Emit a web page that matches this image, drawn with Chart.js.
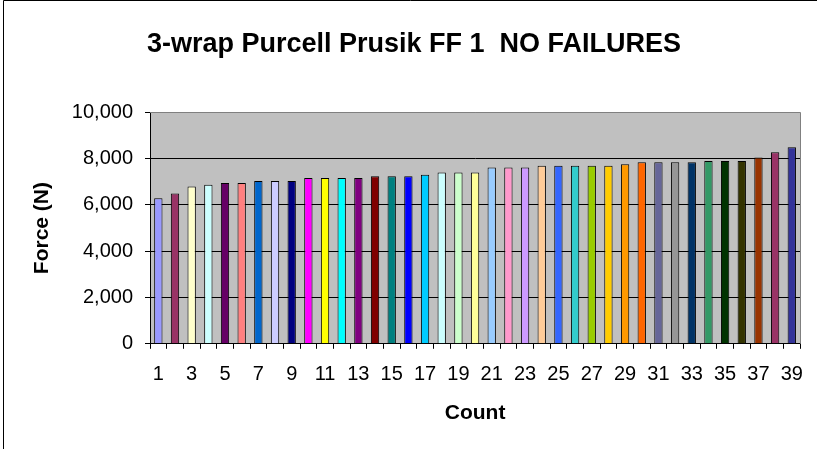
<!DOCTYPE html>
<html>
<head>
<meta charset="utf-8">
<script src="https://cdn.jsdelivr.net/npm/chart.js@4/dist/chart.umd.min.js"></script>
<style>
html,body{margin:0;padding:0;background:#fff;}
#wrap{position:relative;width:817px;height:449px;}
</style>
</head>
<body>
<div id="wrap"><canvas id="c" width="817" height="449"></canvas></div>
<script>
const categories = ['1','2','3','4','5','6','7','8','9','10','11','12','13','14','15','16','17','18','19','20','21','22','23','24','25','26','27','28','29','30','31','32','33','34','35','36','37','38','39'];
const forceValues = [6290,6500,6800,6870,6950,6950,7040,7040,7040,7170,7170,7170,7170,7240,7240,7240,7310,7400,7400,7400,7620,7620,7620,7690,7690,7690,7690,7690,7760,7850,7850,7850,7850,7900,7900,7900,8050,8280,8490];
const barColors = ['#9999FF','#993366','#FFFFCC','#CCFFFF','#660066','#FF8080','#0066CC','#CCCCFF','#000080','#FF00FF','#FFFF00','#00FFFF','#800080','#800000','#008080','#0000FF','#00CCFF','#CCFFFF','#CCFFCC','#FFFF99','#99CCFF','#FF99CC','#CC99FF','#FFCC99','#3366FF','#33CCCC','#99CC00','#FFCC00','#FF9900','#FF6600','#666699','#969696','#003366','#339966','#003300','#333300','#993300','#993366','#333399'];
const yTickValues = [0,2000,4000,6000,8000,10000];
const yTickLabels = ['0','2,000','4,000','6,000','8,000','10,000'];
const titleText = '3-wrap Purcell Prusik FF 1  NO FAILURES';
const xTitle = 'Count';
const yTitle = 'Force (N)';

const FONT = "'Liberation Sans', Arial, sans-serif";

const bgPlugin = {
  id: 'bg',
  beforeDraw(chart) {
    const {ctx, chartArea: a} = chart;
    ctx.save();
    ctx.fillStyle = '#C0C0C0';
    ctx.fillRect(a.left, a.top, a.right - a.left, a.bottom - a.top);
    ctx.restore();
  },
  afterDraw(chart) {
    const {ctx, chartArea: a} = chart;
    ctx.save();
    ctx.strokeStyle = '#808080';
    ctx.lineWidth = 1;
    ctx.beginPath();
    ctx.moveTo(a.left, Math.round(a.top) + 0.5);
    ctx.lineTo(Math.round(a.right) + 0.5, Math.round(a.top) + 0.5);
    ctx.lineTo(Math.round(a.right) + 0.5, a.bottom);
    ctx.stroke();
    // outer chart border
    ctx.strokeStyle = '#000';
    ctx.beginPath();
    ctx.moveTo(3.5, 449);
    ctx.lineTo(3.5, 0.5);
    ctx.lineTo(817, 0.5);
    ctx.stroke();
    ctx.restore();
  }
};

new Chart(document.getElementById('c'), {
  type: 'bar',
  data: {
    labels: categories,
    datasets: [{
      data: forceValues,
      backgroundColor: barColors,
      borderColor: '#000',
      borderWidth: 1,
      barPercentage: 0.5,
      categoryPercentage: 1.0
    }]
  },
  plugins: [bgPlugin],
  options: {
    responsive: false,
    animation: false,
    events: [],
    layout: { padding: { left: 18, right: 7, top: 0, bottom: 23 } },
    plugins: {
      legend: { display: false },
      tooltip: { enabled: false },
      title: {
        display: true,
        text: titleText,
        color: '#000',
        font: { family: FONT, size: 27, weight: 'bold' },
        padding: { top: 28, bottom: 52 }
      }
    },
    scales: {
      x: {
        offset: true,
        grid: {
          display: true,
          offset: true,
          drawOnChartArea: false,
          drawTicks: true,
          tickLength: 5,
          color: '#000',
          tickColor: '#000'
        },
        border: { display: true, color: '#000', width: 1 },
        ticks: {
          autoSkip: false,
          maxRotation: 0,
          minRotation: 0,
          color: '#000',
          padding: 14,
          font: { family: FONT, size: 20 },
          callback: function(v, i) { return i % 2 === 0 ? categories[i] : ''; }
        },
        title: {
          display: true,
          text: xTitle,
          color: '#000',
          font: { family: FONT, size: 21, weight: 'bold' },
          padding: { top: 0, bottom: 0 }
        }
      },
      y: {
        min: 0,
        max: 10000,
        afterBuildTicks: function(scale) { scale.ticks = yTickValues.map(v => ({ value: v })); },
        afterFit: function(scale) { scale.width = 132; },
        grid: {
          color: function(ctx) { return ctx.tick && ctx.tick.value === 10000 ? '#808080' : '#000'; },
          tickColor: '#000',
          tickLength: 5,
          lineWidth: 1
        },
        border: { display: true, color: '#000', width: 1 },
        ticks: {
          color: '#000',
          padding: 12,
          font: { family: FONT, size: 20 },
          callback: function(v) { const i = yTickValues.indexOf(v); return i >= 0 ? yTickLabels[i] : ''; }
        },
        title: {
          display: true,
          text: yTitle,
          color: '#000',
          font: { family: FONT, size: 21, weight: 'bold' },
          padding: { top: 12, bottom: 0 }
        }
      }
    }
  }
});
</script>
</body>
</html>
